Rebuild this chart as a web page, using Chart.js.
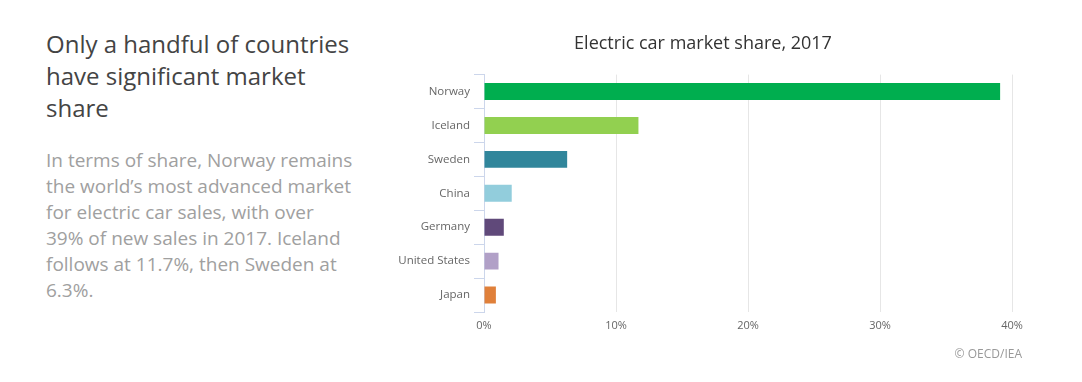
<!DOCTYPE html>
<html>
<head>
<meta charset="utf-8">
<script src="https://cdn.jsdelivr.net/npm/chart.js@4/dist/chart.umd.min.js"></script>
<style>
  html, body { margin: 0; padding: 0; background: #fff; }
  body { width: 1082px; height: 382px; position: relative; overflow: hidden; font-family: "Open Sans", sans-serif; }
  #heading { position: absolute; left: 46px; top: 28px; font-size: 24px; line-height: 32px; color: #444; margin: 0; font-weight: 400; }
  #para { position: absolute; left: 46px; top: 147px; font-size: 19px; line-height: 26px; color: #a0a0a0; margin: 0; }
  #credit { position: absolute; right: 60px; top: 346px; font-size: 12px; line-height: 16px; color: #999; }
  #wrap { position: absolute; left: 366px; top: 0; width: 674px; height: 382px; }
</style>
</head>
<body>
<h2 id="heading">Only a handful of countries<br>have significant market<br>share</h2>
<p id="para">In terms of share, Norway remains<br>the world’s most advanced market<br>for electric car sales, with over<br>39% of new sales in 2017. Iceland<br>follows at 11.7%, then Sweden at<br>6.3%.</p>
<div id="wrap"><canvas id="c" width="674" height="382"></canvas></div>
<div id="credit">© OECD/IEA</div>
<script>
const chartTitle = "Electric car market share, 2017";
const countries = ["Norway", "Iceland", "Sweden", "China", "Germany", "United States", "Japan"];
const marketShare = [39.1, 11.7, 6.3, 2.1, 1.5, 1.1, 0.9];
const barColors = ["#00AE4F", "#92D050", "#31869B", "#92CDDC", "#60497A", "#B1A0C7", "#E0803A"];
const xTicks = [0, 10, 20, 30, 40];

new Chart(document.getElementById("c"), {
  type: "bar",
  data: {
    labels: countries,
    datasets: [{
      data: marketShare,
      backgroundColor: barColors,
      borderWidth: 0,
      categoryPercentage: 1,
      barPercentage: 0.5
    }]
  },
  options: {
    indexAxis: "y",
    responsive: false,
    animation: false,
    devicePixelRatio: 1,
    layout: { padding: { left: 28, right: 28, top: 0, bottom: 0 } },
    plugins: {
      legend: { display: false },
      tooltip: { enabled: false },
      title: {
        display: true,
        text: chartTitle,
        color: "#333333",
        font: { family: "'Open Sans', sans-serif", size: 18, weight: "normal" },
        padding: { top: 33, bottom: 20 }
      }
    },
    scales: {
      x: {
        type: "linear",
        min: xTicks[0],
        max: xTicks[xTicks.length - 1],
        afterBuildTicks: (s) => { s.ticks = xTicks.map(v => ({ value: v })); },
        afterFit: (s) => { s.height = 70; },
        grid: { color: "#e6e6e6", drawTicks: false, lineWidth: 1 },
        border: { display: false },
        ticks: {
          color: "#666666",
          padding: 7,
          font: { family: "'Open Sans', sans-serif", size: 11 },
          callback: (v) => v + "%"
        }
      },
      y: {
        type: "category",
        afterFit: (s) => { s.width = 90; },
        grid: { offset: true, drawOnChartArea: false, drawTicks: true, tickLength: 10, color: "#ccd6eb" },
        border: { display: true, color: "#ccd6eb", width: 1 },
        ticks: {
          color: "#666666",
          padding: 4,
          font: { family: "'Open Sans', sans-serif", size: 11.5 }
        }
      }
    }
  }
});
</script>
</body>
</html>
